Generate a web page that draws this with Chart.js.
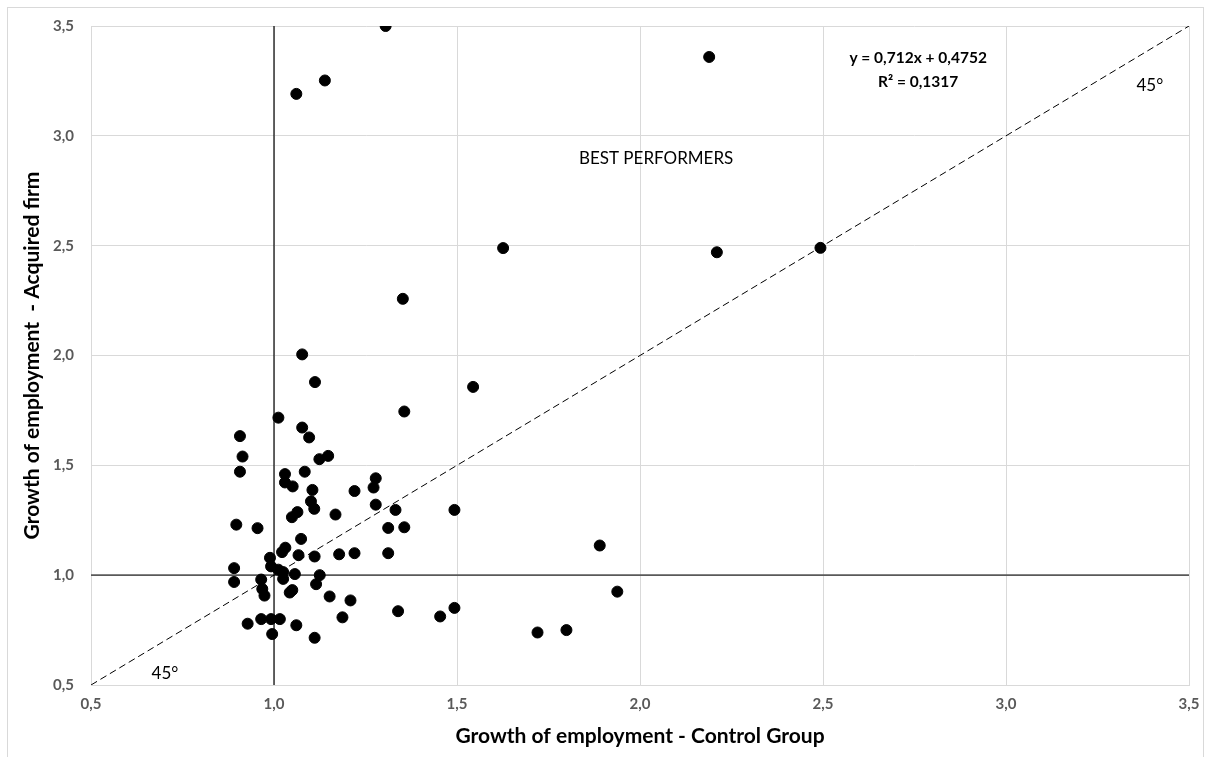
<!DOCTYPE html>
<html>
<head>
<meta charset="utf-8">
<script src="https://cdn.jsdelivr.net/npm/chart.js@4.4.1/dist/chart.umd.min.js"></script>
<style>
  html, body { margin: 0; padding: 0; background: #fff; overflow: hidden; }
  #wrap { position: relative; width: 1212px; height: 757px; }
  #frame { position: absolute; left: 7px; top: 7px; width: 1197px; height: 800px; border: 1px solid #d9d9d9; box-sizing: border-box; pointer-events: none; }
  canvas { position: absolute; left: 0; top: 0; }
</style>
</head>
<body>
<div id="wrap">
  <div id="frame"></div>
  <canvas id="grafico" width="1212" height="757"></canvas>
</div>
<script>
// Datos (crecimiento del empleo)
const controlGroup = [
  1.305, 1.139, 1.061, 2.189, 1.626, 2.210, 2.493, 1.352, 1.077, 1.112,
  1.544, 1.356, 1.012, 1.077, 1.096, 0.907, 0.914, 1.124, 1.148, 0.907,
  1.030, 1.084, 1.030, 1.051, 1.105, 1.101, 1.110, 1.278, 1.272, 1.220,
  1.278, 1.332, 1.493, 1.312, 1.356, 1.168, 1.049, 1.064, 1.074, 0.897,
  0.955, 1.890, 1.022, 1.031, 1.067, 1.111, 1.178, 1.220, 1.312, 0.989,
  0.891, 0.992, 1.012, 1.025, 1.057, 1.125, 0.891, 0.965, 1.025, 1.115,
  0.968, 0.974, 1.043, 1.050, 1.152, 1.209, 1.339, 1.938, 1.493, 1.454,
  1.720, 1.799, 0.928, 0.965, 0.992, 1.016, 1.061, 1.187, 0.995, 1.111
];
const acquiredFirm = [
  3.500, 3.252, 3.191, 3.359, 2.489, 2.470, 2.490, 2.258, 2.005, 1.879,
  1.857, 1.745, 1.717, 1.672, 1.627, 1.633, 1.540, 1.528, 1.543, 1.471,
  1.460, 1.471, 1.422, 1.404, 1.388, 1.336, 1.302, 1.441, 1.399, 1.383,
  1.321, 1.297, 1.297, 1.215, 1.218, 1.276, 1.264, 1.287, 1.165, 1.230,
  1.214, 1.135, 1.105, 1.125, 1.091, 1.085, 1.095, 1.100, 1.100, 1.079,
  1.032, 1.040, 1.025, 1.014, 1.005, 1.000, 0.969, 0.980, 0.983, 0.959,
  0.937, 0.907, 0.921, 0.932, 0.903, 0.885, 0.836, 0.925, 0.851, 0.812,
  0.739, 0.750, 0.779, 0.800, 0.800, 0.800, 0.772, 0.808, 0.732, 0.715
];

// Ejes y líneas de referencia
const axisMin = 0.5;
const axisMax = 3.5;
const axisStep = 0.5;
const refValue = 1.0;          // líneas x = 1 e y = 1
const diagonal = [0.5, 3.5];   // línea de 45°

const formatoComa = v => Number(v).toFixed(1).replace('.', ',');

const puntos = controlGroup.map((x, i) => ({ x: x, y: acquiredFirm[i] }));

// Textos sobre el gráfico (posición en valores de los ejes)
const anotaciones = [
  { text: 'y = 0,712x + 0,4752', x: 2.76, y: 3.355, font: 'bold 15.5px Lato' },
  { text: 'R² = 0,1317', x: 2.76, y: 3.247, font: 'bold 15.5px Lato' },
  { text: 'BEST PERFORMERS', x: 2.044, y: 2.896, font: '17px Lato' },
  { text: '45°', x: 3.393, y: 3.228, font: '17px Lato' },
  { text: '45°', x: 0.702, y: 0.554, font: '17px Lato' }
];

const pluginTextos = {
  id: 'textos',
  afterDatasetsDraw(chart) {
    const ctx = chart.ctx;
    const sx = chart.scales.x, sy = chart.scales.y;
    ctx.save();
    ctx.fillStyle = '#000';
    ctx.textAlign = 'center';
    ctx.textBaseline = 'middle';
    anotaciones.forEach(a => {
      ctx.font = a.font;
      ctx.fillText(a.text, sx.getPixelForValue(a.x), sy.getPixelForValue(a.y));
    });
    ctx.restore();
  }
};

const ctx = document.getElementById('grafico').getContext('2d');
new Chart(ctx, {
  type: 'scatter',
  data: {
    datasets: [
      {
        label: 'Firms',
        data: puntos,
        backgroundColor: '#000',
        borderColor: '#000',
        pointRadius: 5.5,
        borderWidth: 1
      },
      {
        type: 'line',
        label: '45',
        data: [{ x: diagonal[0], y: diagonal[0] }, { x: diagonal[1], y: diagonal[1] }],
        borderColor: '#000',
        borderWidth: 1,
        borderDash: [7, 4],
        pointRadius: 0,
        fill: false
      },
      {
        type: 'line',
        label: 'x=1',
        data: [{ x: refValue, y: axisMin }, { x: refValue, y: axisMax }],
        borderColor: '#000',
        borderWidth: 1.2,
        pointRadius: 0,
        fill: false
      },
      {
        type: 'line',
        label: 'y=1',
        data: [{ x: axisMin, y: refValue }, { x: axisMax, y: refValue }],
        borderColor: '#595959',
        borderWidth: 1.6,
        pointRadius: 0,
        fill: false
      }
    ]
  },
  options: {
    responsive: false,
    animation: false,
    layout: { padding: { top: 24, right: 23, left: 0, bottom: 0 } },
    plugins: {
      legend: { display: false },
      tooltip: { enabled: false }
    },
    scales: {
      x: {
        type: 'linear',
        min: axisMin,
        max: axisMax,
        afterFit: s => { s.height = 72; },
        grid: { color: '#d9d9d9', drawTicks: false },
        border: { color: '#d9d9d9' },
        ticks: {
          stepSize: axisStep,
          padding: 10,
          color: '#595959',
          font: { family: 'Lato', size: 15, weight: 'bold' },
          callback: formatoComa
        },
        title: {
          display: true,
          text: 'Growth of employment - Control Group',
          color: '#000',
          font: { family: 'Lato', size: 21, weight: 'bold' },
          padding: { top: 0, bottom: 8 }
        }
      },
      y: {
        type: 'linear',
        min: axisMin,
        max: axisMax,
        afterFit: s => { s.width = 91; },
        grid: { color: '#d9d9d9', drawTicks: false },
        border: { color: '#d9d9d9' },
        ticks: {
          stepSize: axisStep,
          padding: 17,
          color: '#595959',
          font: { family: 'Lato', size: 15, weight: 'bold' },
          callback: formatoComa
        },
        title: {
          display: true,
          text: 'Growth of employment  - Acquired firm',
          color: '#000',
          font: { family: 'Lato', size: 21, weight: 'bold' },
          padding: { top: 20, bottom: 0 }
        }
      }
    }
  },
  plugins: [pluginTextos]
});
</script>
</body>
</html>
